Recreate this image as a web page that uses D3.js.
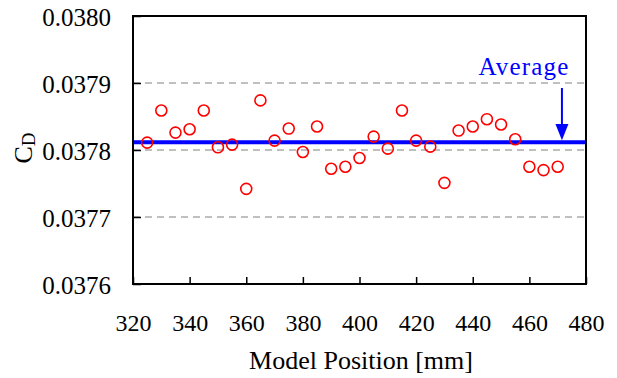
<!DOCTYPE html>
<html><head><meta charset="utf-8">
<script src="https://cdn.jsdelivr.net/npm/d3@7"></script>
<style>body{margin:0;background:#fff}svg{display:block}
svg text{font-family:"Liberation Serif","DejaVu Serif",serif !important;}</style>
</head><body>
<script>
const positions = [325,330,335,340,345,350,355,360,365,370,375,380,385,390,395,400,405,410,415,420,425,430,435,440,445,450,455,460,465,470];
const cdValues = [0.037811,0.037859,0.037826,0.037831,0.037859,0.037804,0.037808,0.037742,0.037874,0.037814,0.037832,0.037797,0.037835,0.037772,0.037775,0.037788,0.037820,0.037802,0.037859,0.037814,0.037805,0.037751,0.037829,0.037835,0.037846,0.037838,0.037816,0.037775,0.037770,0.037775];
const averageValue = [0.0378115];
const xTicks = [320,340,360,380,400,420,440,460,480];
const yTicks = [0.0376,0.0377,0.0378,0.0379,0.0380];
const gridTicks = [0.0377,0.0378,0.0379];

const W=617,H=378;
const L=133,R=586,T=16,B=284;
const svg=d3.select("body").append("svg").attr("width",W).attr("height",H);
const x=d3.scaleLinear().domain([320,480]).range([L,R]);
const y=d3.scaleLinear().domain([0.0376,0.0380]).range([B,T]);

// grid
svg.append("g").selectAll("line").data(gridTicks).join("line")
  .attr("x1",L).attr("x2",R).attr("y1",d=>y(d)).attr("y2",d=>y(d))
  .attr("stroke","#808080").attr("stroke-width",1).attr("stroke-dasharray","7,5");

// average line
svg.append("g").selectAll("line").data(averageValue).join("line")
  .attr("x1",L).attr("x2",R).attr("y1",d=>y(d)).attr("y2",d=>y(d))
  .attr("stroke","#0000ff").attr("stroke-width",4);

// axes
const xAxis=d3.axisBottom(x).tickValues(xTicks).tickSize(-7).tickFormat(d3.format("d")).tickPadding(30);
const gx=svg.append("g").attr("transform",`translate(0,${B})`).call(xAxis);
const yAxis=d3.axisLeft(y).tickValues(yTicks).tickSize(-8).tickFormat(d3.format(".4f")).tickPadding(22);
const gy=svg.append("g").attr("transform",`translate(${L},0)`).call(yAxis);
[gx,gy].forEach(g=>{
  g.attr("font-family",null).attr("font-size",null);
  g.select(".domain").remove();
  g.selectAll(".tick line").attr("stroke","#000").attr("stroke-width",1.5);
  g.selectAll(".tick text").attr("fill","#000");
});
gx.selectAll(".tick text").attr("font-size",24);
gy.selectAll(".tick text").attr("font-size",25).attr("dy","0.38em");

// frame
svg.append("rect").attr("x",L).attr("y",T).attr("width",R-L).attr("height",B-T)
  .attr("fill","none").attr("stroke","#000").attr("stroke-width",2);

// points
svg.append("g").selectAll("circle").data(positions.map((p,i)=>[p,cdValues[i]])).join("circle")
  .attr("cx",d=>x(d[0])).attr("cy",d=>y(d[1])).attr("r",5.5)
  .attr("fill","none").attr("stroke","#ff0000").attr("stroke-width",1.6);

// Average label and arrow
svg.append("text").attr("x",524).attr("y",75).attr("text-anchor","middle")
  .attr("font-size",25).attr("letter-spacing","1.2px")
  .attr("fill","#0000ff").text("Average");
const ax=x(471.5);
svg.append("line").attr("x1",ax).attr("x2",ax).attr("y1",88).attr("y2",128)
  .attr("stroke","#0000ff").attr("stroke-width",2);
svg.append("path").attr("d",`M${ax-6.5},${124}L${ax+6.5},${124}L${ax},${y(averageValue[0])-2}Z`).attr("fill","#0000ff");

// axis titles
svg.append("text").attr("x",361).attr("y",369).attr("text-anchor","middle")
  .attr("font-size",26).attr("fill","#000").text("Model Position [mm]");
const yt=svg.append("text").attr("transform","translate(32,148) rotate(-90)").attr("text-anchor","middle")
  .attr("font-size",26).attr("fill","#000");
yt.append("tspan").text("C");
yt.append("tspan").attr("font-size",19).attr("dy",3).text("D");
</script>
</body></html>
